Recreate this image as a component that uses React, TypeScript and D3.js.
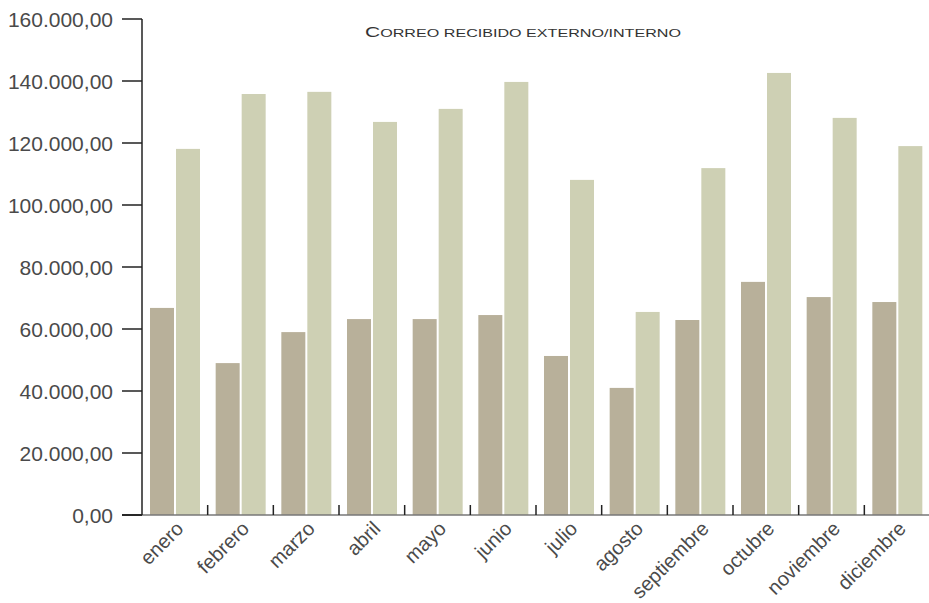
import React from "react";
import * as d3 from "d3";

const months = ["enero", "febrero", "marzo", "abril", "mayo", "junio", "julio", "agosto", "septiembre", "octubre", "noviembre", "diciembre"];
const externo = [66800, 49000, 59000, 63200, 63200, 64500, 51300, 41000, 62900, 75200, 70300, 68700];
const interno = [118100, 135800, 136500, 126800, 131000, 139700, 108100, 65500, 111900, 142600, 128100, 119000];
const yTicks = [0, 20000, 40000, 60000, 80000, 100000, 120000, 140000, 160000];
const titleFirst = "C";
const titleRest = "ORREO RECIBIDO EXTERNO/INTERNO";

const W = 929, H = 603;
const left = 142, right = 930, top = 19, bottom = 515;
const font = "'Liberation Sans', Arial, Helvetica, sans-serif";

export default function App() {
  const x = d3.scaleBand<string>().domain(months).range([left, right]).paddingInner(0).paddingOuter(0);
  const bw = x.bandwidth();
  const x1 = d3.scaleBand<string>().domain(["ext", "int"]).range([bw * 8 / 65.67, bw * 58 / 65.67]).paddingInner(2 / 26);
  const y = d3.scaleLinear().domain([0, 160000]).range([bottom, top]);
  const fmt = (v: number) => {
    const s = d3.format(",.2f")(v);
    return s.replace(/,/g, "#").replace(".", ",").replace(/#/g, ".");
  };
  return (
    <svg width={W} height={H} style={{ position: "absolute", left: 0, top: 0, background: "#fff" }}>
      {months.map((m, i) => (
        <g key={m} transform={`translate(${x(m)},0)`}>
          <rect x={x1("ext")} width={x1.bandwidth()} y={y(externo[i])} height={bottom - y(externo[i])} fill="#b8b09a" />
          <rect x={x1("int")} width={x1.bandwidth()} y={y(interno[i])} height={bottom - y(interno[i])} fill="#ced0b4" />
        </g>
      ))}
      <line x1={left - 20} x2={W} y1={bottom} y2={bottom} stroke="#777" strokeWidth={1.5} />
      <line x1={left - 20} x2={left} y1={bottom} y2={bottom} stroke="#222" strokeWidth={1.5} />
      <line x1={left} x2={left} y1={top} y2={bottom} stroke="#222" strokeWidth={1.5} />
      {yTicks.map((t) => (
        <g key={t}>
          <line x1={left - 20} x2={left} y1={y(t)} y2={y(t)} stroke="#222" strokeWidth={1.5} />
          <text x={left - 29} y={y(t)} dy="0.36em" textAnchor="end" fontFamily={font} fontSize={21} fill="#4a4a4a">{fmt(t)}</text>
        </g>
      ))}
      {months.map((m, i) => (
        <g key={"t" + m}>
          {i > 0 && <line x1={x(m)} x2={x(m)} y1={bottom - 10} y2={bottom} stroke="#222" strokeWidth={1.5} />}
          <text transform={`translate(${(x(m) as number) + bw / 2},${bottom + 5}) rotate(-45)`} textAnchor="end" dy="0.7em" fontFamily={font} fontSize={20} fill="#4a4a4a">{m}</text>
        </g>
      ))}
      <text x={523} y={37} textAnchor="middle" fontFamily={font} fill="#333" textLength={316} lengthAdjust="spacingAndGlyphs">
        <tspan fontSize={15}>{titleFirst}</tspan>
        <tspan fontSize={11.5}>{titleRest}</tspan>
      </text>
    </svg>
  );
}
